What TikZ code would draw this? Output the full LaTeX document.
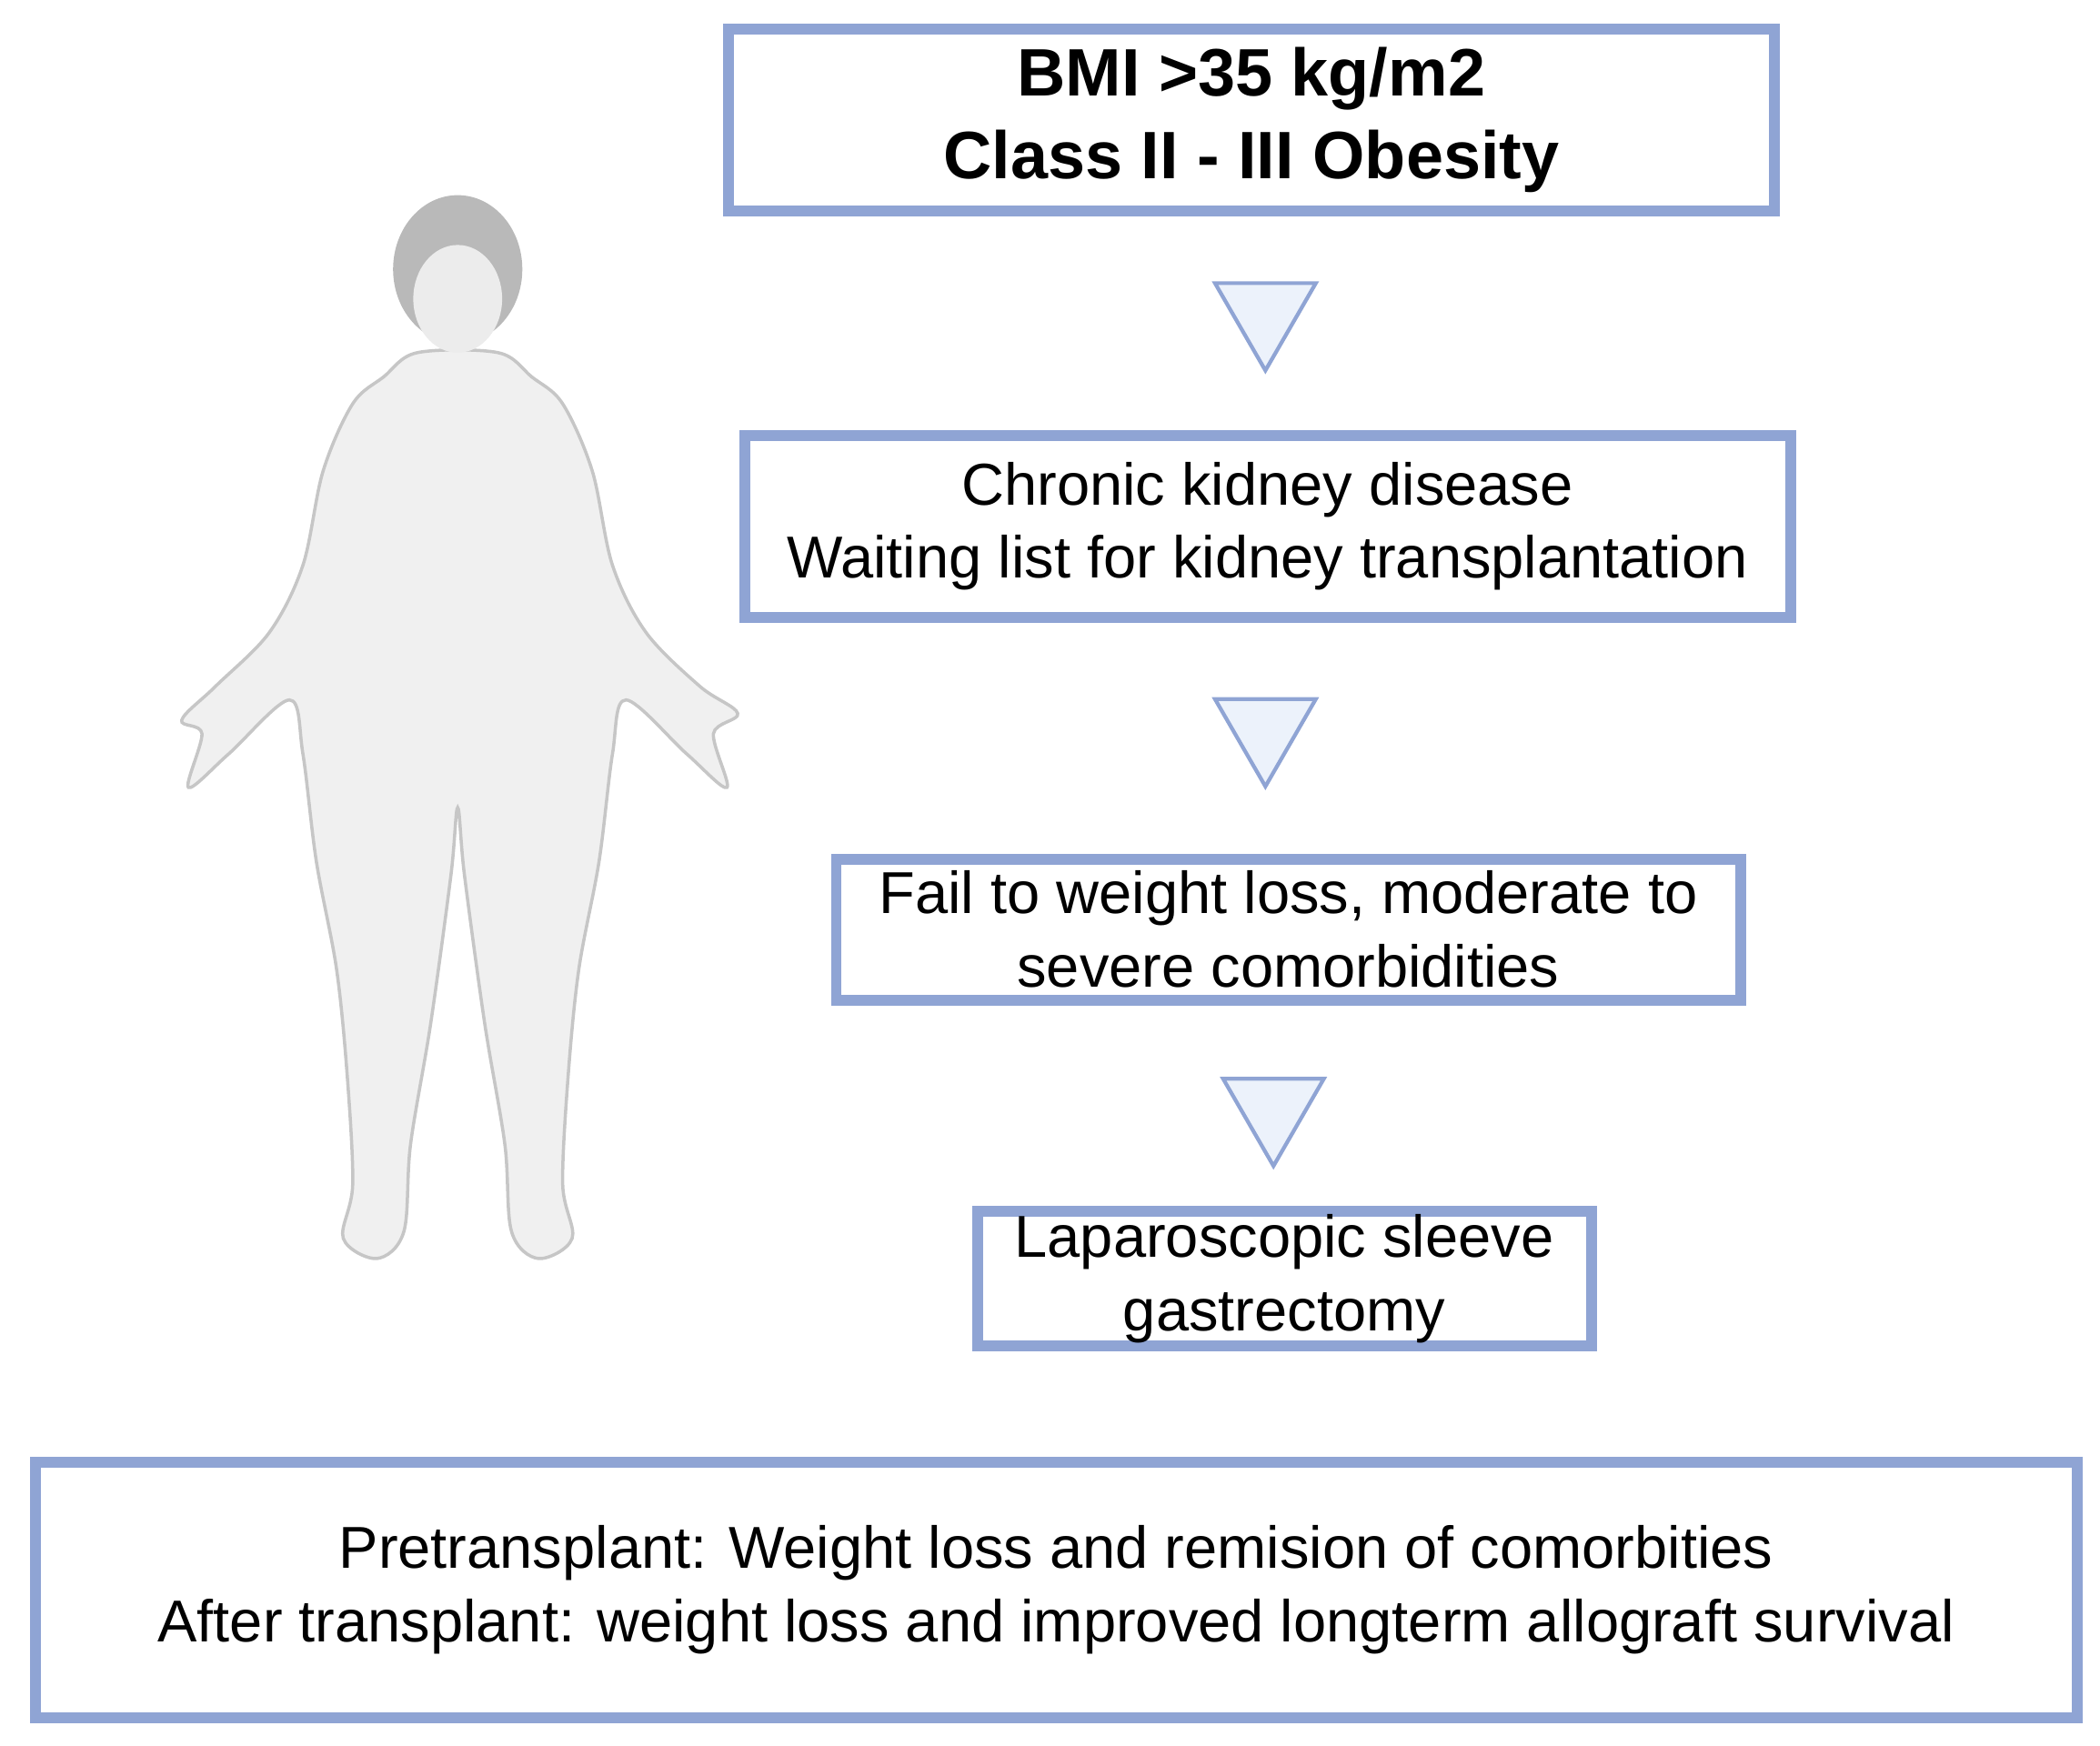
\documentclass[tikz,border=0pt]{standalone}
\usepackage{fontspec}
\setmainfont{Liberation Sans}
\usetikzlibrary{shapes.geometric}
\definecolor{boxblue}{RGB}{143,164,212}
\definecolor{arrowfill}{RGB}{236,242,251}
\begin{document}
\begin{tikzpicture}[
    x=0.0148cm, y=-0.0148cm,
    stage/.style={draw=boxblue, line width=3.4pt, fill=white, align=center, inner sep=0,
      font=\fontsize{18.5}{23}\selectfont},
    title/.style={stage, font=\fontsize{21}{26}\selectfont\bfseries},
    down/.style={regular polygon, regular polygon sides=3, shape border rotate=180,
      minimum size=1.28cm, inner sep=0, draw=boxblue, line width=1.2pt, fill=arrowfill}
  ]
  \useasboundingbox (0,0) rectangle (1560,1297);

  % Person
  \draw[gray!45, line width=1pt, fill=gray!12] plot[smooth cycle, tension=0.55] coordinates {
    (310,262) (285,280) (262,300) (240,350) (225,420) (200,470) (160,510) (135,535)
    (150,545) (140,585) (170,560) (215,520) (225,560) (235,640) (250,720) (258,800)
    (262,880) (255,920) (280,935) (300,915) (305,850) (320,760) (335,650) (340,600)
    (345,650) (360,760) (375,850) (380,915) (400,935) (425,920) (418,880) (422,800)
    (430,720) (445,640) (455,560) (465,520) (510,560) (540,585) (530,545) (548,530)
    (520,510) (480,470) (455,420) (440,350) (418,300) (395,280) (370,262)};
  \fill[gray!55] (340,200) ellipse [x radius=48, y radius=55];
  \fill[gray!15] (340,222) ellipse [x radius=33, y radius=40];

  % Steps
  \node[title, minimum width=11.5cm, minimum height=2.0cm] (bmi) at (929.5,89)
    {BMI >35 kg/m2\\Class II - III Obesity};
  \node[stage, minimum width=11.5cm, minimum height=2.0cm] (ckd) at (941.5,391)
    {Chronic kidney disease\\Waiting list for kidney transplantation};
  \node[stage, minimum width=9.94cm, minimum height=1.55cm] (fail) at (957,690.5)
    {Fail to weight loss, moderate to\\severe comorbidities};
  \node[stage, minimum width=6.75cm, minimum height=1.48cm] (lsg) at (954,950)
    {Laparoscopic sleeve\\gastrectomy};
  \node[stage, minimum width=22.45cm, minimum height=2.81cm] (out) at (784.5,1181)
    {Pretransplant: Weight loss and remision of comorbities\\After transplant: weight loss and improved longterm allograft survival};

  % Arrows between steps
  \node[down] (a1) at (940,232) {};
  \node[down] (a2) at (940,541) {};
  \node[down] (a3) at (946,823) {};
\end{tikzpicture}
\end{document}
